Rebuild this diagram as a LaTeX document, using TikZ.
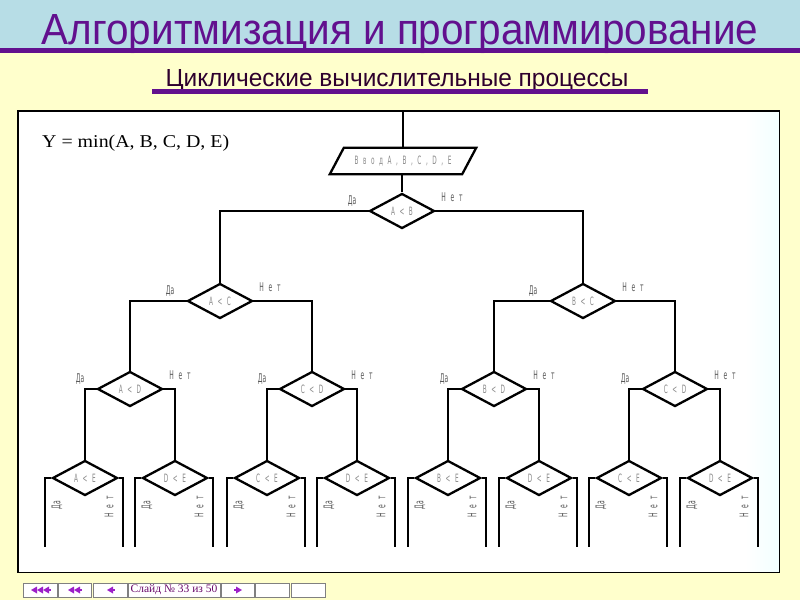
\documentclass[tikz,border=0pt]{standalone}
\usepackage{fontspec}
\usepackage{graphicx}
\setmainfont{Liberation Serif}
\newfontfamily\titlefont{Liberation Sans}
\newfontfamily\dfont[WordSpace=2.5]{DejaVu Sans}
\usetikzlibrary{shapes.geometric}
\definecolor{bgyel}{HTML}{FFFFCC}
\definecolor{bandblue}{HTML}{B7DDE6}
\definecolor{tpurple}{HTML}{62108E}
\definecolor{subdark}{HTML}{2E002E}
\definecolor{labgray}{HTML}{5A5A5A}
\definecolor{dgray}{HTML}{8C8C8C}
\definecolor{navpurple}{HTML}{9C1FC8}
\definecolor{navtext}{HTML}{6A0A6A}
\newcommand\nr[1]{\scalebox{0.5}[1]{#1}}
\begin{document}
\begin{tikzpicture}[x=1pt,y=-1pt,
  conn/.style={line width=2.3pt, line cap=rect},
  dec/.style={diamond, draw=black, line width=2.3pt, minimum width=65pt, minimum height=35pt,
    inner sep=0pt, text=dgray, font=\dfont\fontsize{11.5}{11.5}\selectfont},
  lbl/.style={inner sep=0pt, text=labgray, font=\dfont\fontsize{12}{12}\selectfont},
  vlbl/.style={lbl, rotate=90},
  btn/.style={draw=gray, fill=white, line width=0.8pt, minimum height=14pt, inner sep=0pt},
]
\useasboundingbox (0,0) rectangle (800,600);
% background
\fill[bgyel] (0,0) rectangle (800,600);
\fill[bandblue] (0,0) rectangle (800,48);
\fill[tpurple] (0,48) rectangle (800,52.5);
\node[anchor=base, inner sep=0pt, text=tpurple] (title) at (400,44)
  {\resizebox{716pt}{30pt}{\titlefont Алгоритмизация и программирование}};
\node[anchor=base, inner sep=0pt, text=subdark] (sub) at (397,86)
  {\resizebox{463pt}{17pt}{\titlefont Циклические вычислительные процессы}};
\fill[tpurple] (152,89) rectangle (648,93.5);
% frame
\node[fill=white, anchor=north west, minimum width=761pt,
  minimum height=461pt, inner sep=0pt] (frame) at (18,111) {};
\shade[left color=white, right color=cyan!5] (745,111) rectangle (779,572);
\draw[line width=1.2pt] (frame.north west) rectangle (frame.south east);
\node[anchor=base west, inner sep=0pt] (formula) at (42,147)
  {\resizebox{187pt}{12.5pt}{Y = min(A, B, C, D, E)}};
% input parallelogram
\node[minimum width=132pt, minimum height=26pt, inner sep=0pt, text=dgray,
  font=\dfont\fontsize{11.5}{11.5}\selectfont] (inp) at (403,161) {\nr{В в о д  A , B , C , D , E}};
\draw[conn, line cap=butt] ([xshift=7pt]inp.north west) -- ([xshift=7pt]inp.north east)
  -- ([xshift=-7pt]inp.south east) -- ([xshift=-7pt]inp.south west) -- cycle;
% decisions
\node[dec] (AB) at (402,211) {\nr{A < B}};
\node[dec] (AC) at (220,301) {\nr{A < C}};
\node[dec] (BC) at (583,301) {\nr{B < C}};
\node[dec] (AD) at (130,389) {\nr{A < D}};
\node[dec] (CDa) at (312,389) {\nr{C < D}};
\node[dec] (BD) at (494,389) {\nr{B < D}};
\node[dec] (CDb) at (675,389) {\nr{C < D}};
\node[dec] (AE) at (85,478) {\nr{A < E}};
\node[dec] (DEa) at (175,478) {\nr{D < E}};
\node[dec] (CEa) at (267,478) {\nr{C < E}};
\node[dec] (DEb) at (357,478) {\nr{D < E}};
\node[dec] (BE) at (448,478) {\nr{B < E}};
\node[dec] (DEc) at (539,478) {\nr{D < E}};
\node[dec] (CEb) at (629,478) {\nr{C < E}};
\node[dec] (DEd) at (720,478) {\nr{D < E}};
% connectors
\draw[conn, line cap=butt] (inp.north |- frame.north) -- (inp.north);
\draw[conn, line cap=butt] (AB.north |- inp.south) -- (AB.north);
\draw[conn] (AB.west) -| (AC.north);
\draw[conn] (AB.east) -| (BC.north);
\draw[conn] (AC.west) -| (AD.north);
\draw[conn] (AC.east) -| (CDa.north);
\draw[conn] (BC.west) -| (BD.north);
\draw[conn] (BC.east) -| (CDb.north);
\draw[conn] (AD.west) -| (AE.north);
\draw[conn] (AD.east) -| (DEa.north);
\draw[conn] (CDa.west) -| (CEa.north);
\draw[conn] (CDa.east) -| (DEb.north);
\draw[conn] (BD.west) -| (BE.north);
\draw[conn] (BD.east) -| (DEc.north);
\draw[conn] (CDb.west) -| (CEb.north);
\draw[conn] (CDb.east) -| (DEd.north);
% top labels
\foreach \n in {AB,AC,BC,AD,CDa,BD,CDb}{
  \node[lbl] (\n-yes) at ([xshift=-50pt,yshift=10pt]\n.center) {\nr{Да}};
  \node[lbl] (\n-no) at ([xshift=50pt,yshift=14pt]\n.center) {\nr{Н е т}};
}
% bottom branches
\foreach \n/\c in {AE/85,DEa/175,CEa/267,DEb/357,BE/448,DEc/539,CEb/629,DEd/720}{
  \coordinate (\n-l) at (\c-40,547);
  \coordinate (\n-r) at (\c+38,547);
  \draw[conn, line cap=butt] (\n.west) -| (\n-l);
  \draw[conn, line cap=butt] (\n.east) -| (\n-r);
  \node[vlbl] (\n-yes) at (\c-28,505) {\nr{Да}};
  \node[vlbl] (\n-no) at (\c+24,507) {\nr{Н е т}};
}
% navigation bar
\node[btn, minimum width=34pt] (b1) at (40,590) {};
\node[btn, minimum width=33pt] (b2) at (74.5,590) {};
\node[btn, minimum width=34pt] (b3) at (110,590) {};
\node[btn, minimum width=92pt, text=navtext, font=\fontsize{11.5}{11.5}\selectfont] (b4) at (174,590) {Слайд № 33 из 50};
\node[btn, minimum width=33pt] (b5) at (237.5,590) {};
\node[btn, minimum width=34pt] (b6) at (272,590) {};
\node[btn, minimum width=34pt] (b7) at (308,590) {};
\foreach \x in {31,37,43}{\fill[navpurple] (\x,590) -- ++(6,-3.5) -- ++(0,7) -- cycle;}
\fill[navpurple] (49,589) rectangle (51,591);
\foreach \x in {68,74}{\fill[navpurple] (\x,590) -- ++(6,-3.5) -- ++(0,7) -- cycle;}
\fill[navpurple] (80,589) rectangle (82,591);
\fill[navpurple] (107,590) -- ++(6,-3.5) -- ++(0,7) -- cycle;
\fill[navpurple] (113,589) rectangle (115,591);
\fill[navpurple] (242,590) -- ++(-6,-3.5) -- ++(0,7) -- cycle;
\fill[navpurple] (234,589) rectangle (236,591);
\end{tikzpicture}
\end{document}
